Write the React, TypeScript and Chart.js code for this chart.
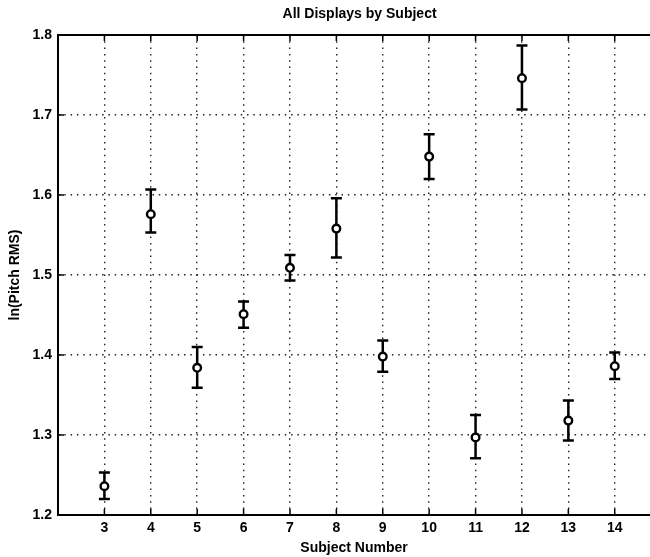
import React, { useEffect, useRef } from "react";
import { Chart, registerables } from "chart.js";

Chart.register(...registerables);

const subjects = [3, 4, 5, 6, 7, 8, 9, 10, 11, 12, 13, 14];
const means = [1.236, 1.576, 1.384, 1.451, 1.509, 1.558, 1.398, 1.648, 1.297, 1.746, 1.318, 1.386];
const upper = [1.253, 1.607, 1.41, 1.467, 1.525, 1.596, 1.418, 1.676, 1.325, 1.787, 1.343, 1.403];
const lower = [1.22, 1.553, 1.359, 1.434, 1.493, 1.522, 1.379, 1.62, 1.271, 1.707, 1.293, 1.37];
const xTickValues = [3, 4, 5, 6, 7, 8, 9, 10, 11, 12, 13, 14];
const yTickValues = [1.2, 1.3, 1.4, 1.5, 1.6, 1.7, 1.8];

const chartTitle = "All Displays by Subject";
const xTitle = "Subject Number";
const yTitle = "ln(Pitch RMS)";

const FONT = "'Liberation Sans', Arial, Helvetica, sans-serif";

const errorBarPlugin = {
  id: "errorBars",
  beforeDatasetsDraw(chart: any) {
    const { ctx, scales } = chart;
    const xs = scales.x;
    const ys = scales.y;
    ctx.save();
    ctx.strokeStyle = "#000";
    ctx.lineWidth = 2.5;
    ctx.lineCap = "butt";
    subjects.forEach((s, i) => {
      const px = xs.getPixelForValue(s);
      const pTop = ys.getPixelForValue(upper[i]);
      const pBot = ys.getPixelForValue(lower[i]);
      ctx.beginPath();
      ctx.moveTo(px, pTop);
      ctx.lineTo(px, pBot);
      ctx.moveTo(px - 5.5, pTop);
      ctx.lineTo(px + 5.5, pTop);
      ctx.moveTo(px - 5.5, pBot);
      ctx.lineTo(px + 5.5, pBot);
      ctx.stroke();
    });
    ctx.restore();
  },
};

const framePlugin = {
  id: "frame",
  afterDraw(chart: any) {
    const { ctx, chartArea, scales } = chart;
    const { left, right, top, bottom } = chartArea;
    const xs = scales.x;
    const ys = scales.y;
    ctx.save();
    ctx.strokeStyle = "#000";
    ctx.lineWidth = 2;
    ctx.beginPath();
    ctx.moveTo(right, top);
    ctx.lineTo(left, top);
    ctx.lineTo(left, bottom);
    ctx.lineTo(right, bottom);
    ctx.stroke();
    ctx.lineWidth = 1.5;
    ctx.beginPath();
    xTickValues.forEach((v) => {
      const px = xs.getPixelForValue(v);
      ctx.moveTo(px, top);
      ctx.lineTo(px, top + 6);
      ctx.moveTo(px, bottom);
      ctx.lineTo(px, bottom - 6);
    });
    yTickValues.forEach((v) => {
      const py = ys.getPixelForValue(v);
      ctx.moveTo(left, py);
      ctx.lineTo(left + 6, py);
    });
    ctx.stroke();
    ctx.fillStyle = "#000";
    ctx.font = `bold 14px ${FONT}`;
    ctx.textAlign = "center";
    ctx.textBaseline = "middle";
    xTickValues.forEach((v) => {
      ctx.fillText(String(v), xs.getPixelForValue(v), bottom + 13);
    });
    ctx.fillText(chartTitle, xs.getPixelForValue(8.5), 14);
    ctx.restore();
  },
};

export default function App() {
  const canvasRef = useRef<HTMLCanvasElement | null>(null);

  useEffect(() => {
    if (!canvasRef.current) return;
    const chart = new Chart(canvasRef.current, {
      type: "scatter",
      data: {
        datasets: [
          {
            data: subjects.map((s, i) => ({ x: s, y: means[i] })),
            pointStyle: "circle",
            pointRadius: 3.8,
            pointBorderWidth: 2.4,
            pointBackgroundColor: "#fff",
            pointBorderColor: "#000",
            showLine: false,
          },
        ],
      },
      options: {
        responsive: false,
        animation: false,
        layout: { autoPadding: false, padding: { top: 35, right: 0, bottom: 0, left: 0 } },
        plugins: {
          legend: { display: false },
          tooltip: { enabled: false },
          title: { display: false },
        },
        scales: {
          x: {
            type: "linear",
            min: 2,
            max: 14.76,
            afterBuildTicks: (scale: any) => {
              scale.ticks = xTickValues.map((v) => ({ value: v }));
            },
            afterFit: (scale: any) => {
              scale.height = 42;
            },
            grid: {
              color: "#222",
              lineWidth: 1.4,
              drawTicks: false,
            },
            border: { display: false, dash: [1.5, 4.8] },
            ticks: { display: false },
            title: {
              display: true,
              text: xTitle,
              color: "#000",
              font: { family: FONT, size: 14, weight: "bold" },
              padding: { top: 0, bottom: 0 },
            },
          },
          y: {
            type: "linear",
            min: 1.2,
            max: 1.8,
            afterBuildTicks: (scale: any) => {
              scale.ticks = yTickValues.map((v) => ({ value: v }));
            },
            afterFit: (scale: any) => {
              scale.width = 58;
            },
            grid: {
              color: "#222",
              lineWidth: 1.4,
              drawTicks: false,
            },
            border: { display: false, dash: [1.5, 4.8] },
            ticks: {
              color: "#000",
              padding: 6,
              font: { family: FONT, size: 14, weight: "bold" },
              callback: (v: any) => Number(v).toFixed(1),
            },
            title: {
              display: true,
              text: yTitle,
              color: "#000",
              font: { family: FONT, size: 14, weight: "bold" },
              padding: { top: 7, bottom: 0 },
            },
          },
        },
      },
      plugins: [errorBarPlugin, framePlugin],
    } as any);
    return () => chart.destroy();
  }, []);

  return (
    <div style={{ position: "fixed", left: 0, top: 0, width: 650, height: 557, background: "#fff" }}>
      <canvas ref={canvasRef} width={650} height={557} style={{ display: "block" }} />
    </div>
  );
}
